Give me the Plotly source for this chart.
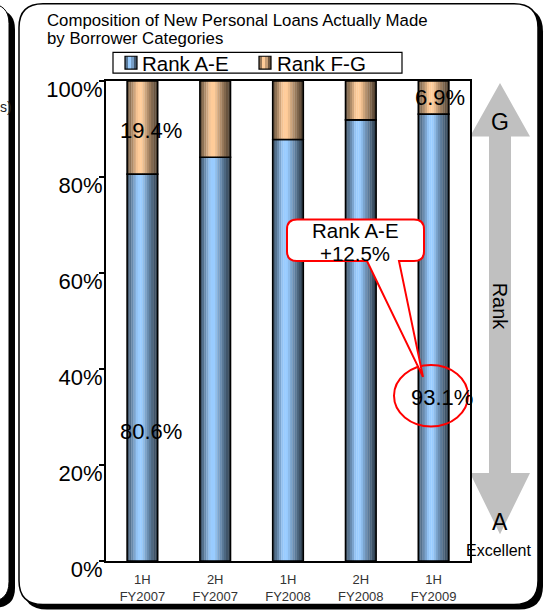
import plotly.graph_objects as go

# ---- data ----
periods = ["1H<br>FY2007", "2H<br>FY2007", "1H<br>FY2008", "2H<br>FY2008", "1H<br>FY2009"]
rank_ae = [80.6, 84.1, 87.8, 91.9, 93.1]
rank_fg = [19.4, 15.9, 12.2, 8.1, 6.9]
y_ticks = [0, 20, 40, 60, 80, 100]
series_names = ["Rank A-E", "Rank F-G"]

FONT = "Arial, Liberation Sans, sans-serif"
W, H = 551, 616
PL, PR, PT, PB = 106, 470, 81, 566   # plot area in pixels

xpos = list(range(len(periods)))


def px(x):
    return (x - PL) / (PR - PL)


def py(y):
    return (PB - y) / (PB - PT)


def to_path(cmds):
    out = []
    for p in cmds:
        cmd, c = p[0], p[1:]
        out.append(cmd + " " + " ".join(f"{px(c[i]):.5f},{py(c[i + 1]):.5f}"
                                         for i in range(0, len(c), 2)))
    return " ".join(out) + " Z"


def rrect(x0, y0, x1, y1, r):
    return to_path([
        ("M", x0 + r, y0), ("L", x1 - r, y0), ("Q", x1, y0, x1, y0 + r),
        ("L", x1, y1 - r), ("Q", x1, y1, x1 - r, y1), ("L", x0 + r, y1),
        ("Q", x0, y1, x0, y1 - r), ("L", x0, y0 + r), ("Q", x0, y0, x0 + r, y0),
    ])


def poly(points):
    return to_path([("M",) + points[0]] + [("L",) + p for p in points[1:]])


BAR_W = 0.42
N_STRIPES = 14


def shade(base, t):
    # bright band a little left of centre, darkening toward both edges
    lo, hi = 0.34, 0.5
    if t < lo:
        k = 1 - 0.62 * ((lo - t) / lo) ** 0.9
    elif t > hi:
        k = 1 - 0.72 * ((t - hi) / (1 - hi)) ** 0.85
    else:
        k = 1.0
    return "rgb({},{},{})".format(*[int(c * k) for c in base])


BLUE = (153, 204, 255)
TAN = (255, 204, 153)

fig = go.Figure()

series = [
    (series_names[0], rank_ae, [0] * len(rank_ae), BLUE),
    (series_names[1], rank_fg, rank_ae, TAN),
]

for name, vals, base, col in series:
    sw = BAR_W / N_STRIPES
    # cylinder-like shading built from narrow vertical stripes
    for i in range(N_STRIPES):
        t = (i + 0.5) / N_STRIPES
        fig.add_trace(go.Bar(
            x=[p - BAR_W / 2 + (i + 0.5) * sw for p in xpos], y=vals, base=base,
            width=sw * 1.1, name=name,
            marker=dict(color=shade(col, t), line=dict(width=0)),
            showlegend=False, hoverinfo="skip",
        ))
    fig.add_trace(go.Bar(
        x=xpos, y=vals, base=base, width=BAR_W, name=name,
        marker=dict(color="rgba(0,0,0,0)", line=dict(color="black", width=1.6)),
        showlegend=False, hoverinfo="skip",
    ))

annotations = []

# value labels on the first and last bars
label_font = dict(family=FONT, size=22, color="black")
annotations += [
    dict(x=xpos[0], y=rank_ae[0] + rank_fg[0] / 2, text=f"{rank_fg[0]}%",
         showarrow=False, font=label_font, xshift=9, yshift=-3),
    dict(x=xpos[0], y=27, text=f"{rank_ae[0]}%", showarrow=False, font=label_font, xshift=9),
    dict(x=xpos[-1], y=rank_ae[-1] + rank_fg[-1] / 2, text=f"{rank_fg[-1]}%",
         showarrow=False, font=label_font, xshift=6),
    dict(x=xpos[-1], y=34, text=f"{rank_ae[-1]}%", showarrow=False, font=label_font, xshift=8),
]


def ptext(x, y, text, size, **kw):
    d = dict(xref="paper", yref="paper", x=px(x), y=py(y), text=text, showarrow=False,
             xanchor=kw.pop("xanchor", "center"), yanchor=kw.pop("yanchor", "middle"),
             font=dict(family=FONT, size=size, color=kw.pop("color", "black")))
    d.update(kw)
    return d


# title (two lines)
annotations += [
    ptext(45, 20, "Composition of New Personal Loans Actually Made", 16.8, xanchor="left"),
    ptext(45, 38, "by Borrower Categories", 16.8, xanchor="left"),
]

# legend box contents
annotations += [
    ptext(140, 63, series_names[0], 20.5, xanchor="left"),
    ptext(275, 63, series_names[1], 20.5, xanchor="left"),
]

# callout text
change = round(rank_ae[-1] - rank_ae[0], 1)
annotations += [
    ptext(355, 232, "Rank A-E", 20.5),
    ptext(355, 255, f"+{change}%", 20.5),
]

# rank scale texts
annotations += [
    ptext(500, 122, "G", 23),
    ptext(500, 309, "Rank", 20, textangle=90),
    ptext(500, 527, "A", 23),
    ptext(498, 555, "Excellent", 16),
    ptext(14, 107, "s)", 14, xanchor="right", color="#222"),
]

shapes = [
    # neighbouring panel edge
    dict(type="path", xref="paper", yref="paper", layer="below", path=rrect(-120, 9, 15, 613, 20),
         fillcolor="black", line=dict(width=0)),
    dict(type="path", xref="paper", yref="paper", layer="below", path=rrect(-120, 3, 9, 607, 20),
         fillcolor="white", line=dict(color="black", width=1)),
    # main panel with drop shadow
    dict(type="path", xref="paper", yref="paper", layer="below", path=rrect(23, 7, 543, 615, 24),
         fillcolor="black", line=dict(width=0)),
    dict(type="path", xref="paper", yref="paper", layer="below", path=rrect(19, 3, 538, 610, 24),
         fillcolor="white", line=dict(color="black", width=1.5)),
    # rank double arrow
    dict(type="path", xref="paper", yref="paper", layer="below",
         path=poly([(500, 83), (530, 137), (511, 137), (511, 477), (530, 477), (500, 539),
                    (470, 477), (489, 477), (489, 137), (470, 137)]),
         fillcolor="#c0c0c0", line=dict(width=0)),
    # legend frame
    dict(type="rect", xref="paper", yref="paper", x0=px(113), x1=px(402), y0=py(73), y1=py(52),
         fillcolor="white", line=dict(color="black", width=1.2)),
]
# legend swatches
for (lx, col) in [(125, BLUE), (259, TAN)]:
    for j in range(4):
        shapes.append(dict(type="rect", xref="paper", yref="paper",
                           x0=px(lx + j * 3), x1=px(lx + (j + 1) * 3), y0=py(69), y1=py(56),
                           fillcolor=shade(col, (j + 0.5) / 4), line=dict(width=0)))
    shapes.append(dict(type="rect", xref="paper", yref="paper",
                       x0=px(lx), x1=px(lx + 12), y0=py(69), y1=py(56),
                       fillcolor="rgba(0,0,0,0)", line=dict(color="black", width=1.2)))

# ellipse around the latest A-E share
shapes.append(dict(type="circle", xref="paper", yref="paper", x0=px(394), x1=px(468),
                   y0=py(430), y1=py(368), line=dict(color="red", width=2),
                   fillcolor="rgba(0,0,0,0)"))

# callout balloon (rounded box with pointer)
cx0, cy0, cx1, cy1, r = 287, 221, 424, 263, 10
shapes.append(dict(type="path", xref="paper", yref="paper", layer="above",
                   path=to_path([
                       ("M", cx0 + r, cy0), ("L", cx1 - r, cy0), ("Q", cx1, cy0, cx1, cy0 + r),
                       ("L", cx1, cy1 - r), ("Q", cx1, cy1, cx1 - r, cy1), ("L", 399, cy1),
                       ("L", 423, 380), ("L", 367, cy1), ("L", cx0 + r, cy1),
                       ("Q", cx0, cy1, cx0, cy1 - r), ("L", cx0, cy0 + r),
                       ("Q", cx0, cy0, cx0 + r, cy0),
                   ]),
                   fillcolor="white", line=dict(color="red", width=2)))

fig.update_layout(
    width=W, height=H,
    margin=dict(l=PL, r=W - PR, t=PT, b=H - PB, pad=0),
    barmode="overlay",
    paper_bgcolor="white",
    plot_bgcolor="rgba(0,0,0,0)",
    font=dict(family=FONT, color="black"),
    showlegend=False,
    xaxis=dict(
        range=[-0.5, len(periods) - 0.5], tickvals=xpos, ticktext=periods,
        showgrid=False, zeroline=False, showline=True, linecolor="black", linewidth=2,
        mirror=True, ticks="", tickfont=dict(family=FONT, size=13, color="#333333"),
        ticklabelstandoff=5, fixedrange=True,
    ),
    yaxis=dict(
        range=[0, 100], tickvals=y_ticks, ticktext=[f"{v}%" for v in y_ticks],
        showgrid=False, zeroline=False, showline=True, linecolor="black", linewidth=2,
        mirror=True, ticks="outside", ticklen=5, tickwidth=1.5, tickcolor="black",
        tickfont=dict(family=FONT, size=22, color="black"),
        ticklabelshift=8, ticklabelstandoff=-8, fixedrange=True,
    ),
    shapes=shapes,
    annotations=annotations,
)

fig.write_html("out.html")
